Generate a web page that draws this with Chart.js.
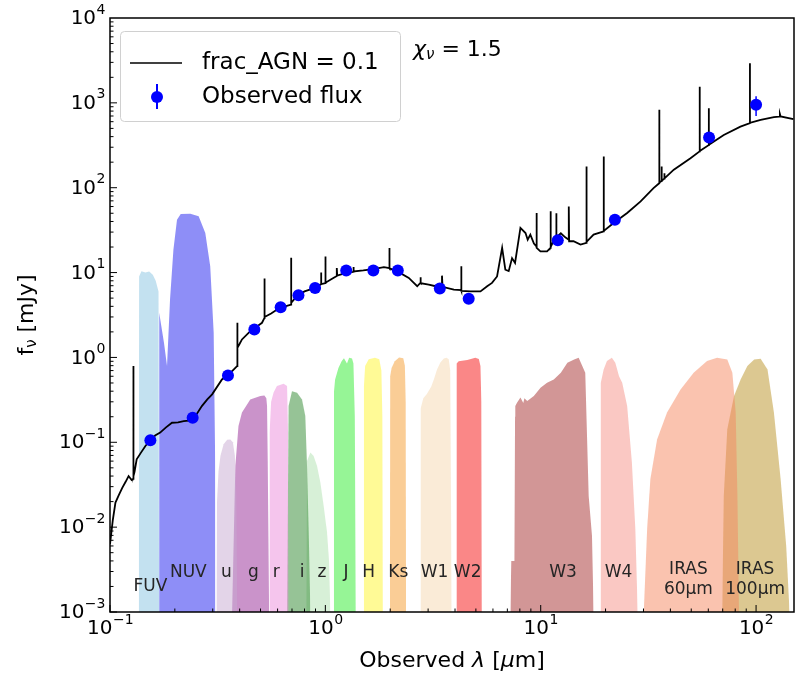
<!DOCTYPE html>
<html>
<head>
<meta charset="utf-8">
<script src="https://cdn.jsdelivr.net/npm/chart.js@4.4.1/dist/chart.umd.min.js"></script>
<style>
  html, body { margin: 0; padding: 0; background: #fff; }
  canvas { display: block; }
</style>
</head>
<body>
<canvas id="sed" width="800" height="677"></canvas>
<script>
// model SED (frac_AGN = 0.1); repeated wavelengths are emission lines
const sedWave = [
  0.100, 0.103, 0.106, 0.110, 0.114, 0.118, 0.122, 0.126, 0.128, 0.128,
  0.129, 0.130, 0.133, 0.139, 0.146, 0.154, 0.162, 0.171, 0.182, 0.194,
  0.207, 0.220, 0.232, 0.245, 0.267, 0.283, 0.298, 0.331, 0.353, 0.375,
  0.389, 0.389, 0.392, 0.400, 0.410, 0.440, 0.468, 0.508, 0.521, 0.521,
  0.523, 0.560, 0.597, 0.650, 0.693, 0.693, 0.695, 0.739, 0.800, 0.896,
  0.955, 0.955, 0.958, 1.000, 1.000, 1.003, 1.06, 1.13, 1.13, 1.135,
  1.25, 1.35, 1.35, 1.355, 1.50, 1.67, 1.87, 1.98, 1.98, 1.99,
  2.15, 2.44, 2.67, 2.76, 2.76, 2.78, 3.02, 3.25, 3.48, 3.48,
  3.50, 3.95, 4.27, 4.27, 4.29, 4.71, 5.25, 5.64, 5.94, 6.27,
  6.62, 6.85, 7.10, 7.36, 7.60, 8.05, 8.50, 8.70, 8.95, 9.30,
  9.55, 9.55, 9.60, 9.97, 10.7, 11.1, 11.1, 11.15, 11.5, 11.8,
  11.8, 11.85, 12.4, 13.0, 13.5, 13.5, 13.55, 14.2, 15.3, 16.3,
  16.3, 16.35, 17.6, 19.6, 19.6, 19.65, 21.8, 25.2, 29.1, 33.4,
  35.5, 35.5, 35.6, 36.4, 36.4, 36.5, 37.5, 37.5, 37.6, 41.5,
  49.6, 54.7, 54.7, 54.8, 60.3, 60.3, 60.4, 70.8, 84.6, 93.6,
  93.6, 93.7, 105, 121, 128, 129, 130, 149
];
const sedFlux = [
  0.0063, 0.012, 0.0195, 0.024, 0.029, 0.034, 0.040, 0.036, 0.037, 0.79,
  0.040, 0.045, 0.063, 0.075, 0.0905, 0.105, 0.12, 0.13, 0.15, 0.17,
  0.172, 0.178, 0.18, 0.19, 0.267, 0.32, 0.367, 0.55, 0.62, 0.72,
  0.79, 2.56, 1.3, 1.45, 1.63, 1.95, 2.2, 2.56, 2.9, 8.5,
  3.0, 3.3, 3.67, 4.0, 4.2, 15.0, 4.4, 5.3, 6.0, 6.6,
  7.3, 10.0, 7.3, 7.5, 15.5, 7.6, 8.3, 9.1, 11.3, 9.2,
  9.9, 10.2, 11.6, 10.3, 10.6, 11.0, 11.6, 11.3, 19.5, 11.2,
  10.4, 8.66, 6.9, 7.56, 8.8, 7.5, 7.2, 6.9, 6.9, 9.2,
  6.8, 6.3, 6.2, 11.9, 6.1, 6.0, 6.0, 6.9, 7.56, 9.0,
  19.5, 10.8, 10.4, 14.8, 13.0, 33.6, 29.2, 24.4, 28, 22,
  20.4, 50.4, 19.5, 17.8, 17.8, 19.5, 52.7, 20, 24, 25,
  50, 26, 29, 26, 24.4, 60, 23.4, 23.4, 21.4, 22.4,
  178, 23, 28, 30.6, 233, 31, 38.4, 50.4, 69, 98.8,
  113, 828, 115, 120, 178, 121, 128, 148, 129, 163,
  223, 268, 1550, 270, 318, 866, 320, 418, 525, 576,
  2930, 580, 630, 680, 690, 741, 692, 645
];

// observed photometry
const obsWave = [0.154, 0.242, 0.353, 0.468, 0.62, 0.75, 0.896, 1.25, 1.67, 2.17, 3.4, 4.63, 12.0, 22.1, 60.5, 100];
const obsFlux = [0.106, 0.195, 0.614, 2.13, 3.9, 5.4, 6.6, 10.6, 10.6, 10.6, 6.5, 4.9, 24, 42, 390, 950];
const obsErr  = [0.005, 0.01, 0.03, 0.1, 0.2, 0.25, 0.3, 0.5, 0.5, 0.5, 0.3, 0.25, 1.5, 3, 40, 250];

// filter transmission curves, scaled onto the flux axis
const fuvWave = [0.136, 0.1365, 0.140, 0.146, 0.152, 0.158, 0.163, 0.168, 0.169];
const fuvTr   = [0.001, 9.0, 10.4, 10.0, 10.3, 9.4, 8.0, 6.0, 0.001];
const nuvWave = [0.169, 0.1692, 0.178, 0.184, 0.190, 0.197, 0.2047, 0.213, 0.236, 0.258, 0.277, 0.292, 0.303, 0.308, 0.3085];
const nuvTr   = [0.001, 3.35, 1.5, 0.79, 4.8, 18.6, 42, 49, 49.5, 46, 29.3, 11.9, 1.95, 0.053, 0.001];
const uWave = [0.312, 0.314, 0.319, 0.326, 0.337, 0.350, 0.362, 0.372, 0.380, 0.386, 0.390];
const uTr   = [0.001, 0.02, 0.045, 0.07, 0.095, 0.107, 0.108, 0.1, 0.07, 0.025, 0.001];
const gWave = [0.369, 0.382, 0.395, 0.410, 0.448, 0.499, 0.521, 0.532, 0.536, 0.540, 0.548];
const gTr   = [0.001, 0.0526, 0.156, 0.224, 0.32, 0.35, 0.357, 0.33, 0.267, 0.06, 0.001];
const rWave = [0.549, 0.551, 0.560, 0.575, 0.596, 0.640, 0.664, 0.671, 0.675];
const rTr   = [0.001, 0.13, 0.3, 0.385, 0.46, 0.49, 0.46, 0.13, 0.001];
const iWave = [0.664, 0.675, 0.700, 0.739, 0.779, 0.807, 0.822, 0.837, 0.852];
const iTr   = [0.001, 0.267, 0.40, 0.384, 0.32, 0.204, 0.0526, 0.0087, 0.001];
const zWave = [0.815, 0.822, 0.852, 0.882, 0.915, 0.948, 0.982, 1.018, 1.040, 1.055];
const zTr   = [0.001, 0.06, 0.0757, 0.069, 0.0526, 0.0336, 0.0178, 0.0087, 0.004, 0.001];
const jWave = [1.095, 1.097, 1.11, 1.15, 1.19, 1.22, 1.26, 1.29, 1.33, 1.35, 1.37, 1.385];
const jTr   = [0.001, 0.4, 0.55, 0.75, 0.9, 0.98, 0.85, 0.99, 0.97, 0.85, 0.2, 0.001];
const hWave = [1.506, 1.51, 1.53, 1.59, 1.70, 1.78, 1.82, 1.84, 1.85];
const hTr   = [0.001, 0.45, 0.79, 0.95, 0.99, 0.95, 0.7, 0.2, 0.001];
const ksWave = [1.995, 2.0, 2.03, 2.1, 2.2, 2.3, 2.34, 2.36, 2.37];
const ksTr   = [0.001, 0.6, 0.75, 0.9, 1.0, 0.98, 0.8, 0.3, 0.001];
const w1Wave = [2.76, 2.77, 2.85, 2.96, 3.1, 3.19, 3.3, 3.42, 3.55, 3.65, 3.74, 3.8, 3.86];
const w1Tr   = [0.001, 0.25, 0.33, 0.37, 0.45, 0.55, 0.72, 0.87, 0.97, 0.99, 0.95, 0.7, 0.001];
const w2Wave = [4.05, 4.07, 4.16, 4.56, 4.97, 5.16, 5.25, 5.30, 5.33];
const w2Tr   = [0.001, 0.85, 0.9, 0.93, 0.99, 0.96, 0.79, 0.3, 0.001];
const w3Wave = [7.23, 7.3, 7.55, 7.6, 7.62, 7.76, 8.05, 8.3, 8.4, 8.66, 9.29, 9.98, 10.7, 11.5, 12.4, 13.3, 14.3, 15.0, 15.6, 16.1, 16.7, 17.3, 17.6];
const w3Tr   = [0.001, 0.004, 0.004, 0.2, 0.267, 0.293, 0.336, 0.29, 0.33, 0.306, 0.35, 0.44, 0.504, 0.55, 0.66, 0.866, 0.947, 0.99, 0.79, 0.66, 0.0233, 0.0079, 0.001];
const w4Wave = [18.9, 19.0, 19.6, 20.3, 21.4, 22.2, 23.1, 23.9, 25.2, 26.5, 27.5, 28.2];
const w4Tr   = [0.001, 0.5, 0.72, 0.905, 0.99, 0.866, 0.6, 0.504, 0.267, 0.058, 0.0095, 0.001];
const i60Wave = [30.1, 31.2, 32.3, 34.7, 38.6, 44.6, 51.3, 59.2, 65.9, 73.5, 77.6, 80.4, 81.9, 83.3];
const i60Tr   = [0.001, 0.0095, 0.0369, 0.108, 0.224, 0.42, 0.66, 0.905, 0.99, 0.947, 0.66, 0.224, 0.0234, 0.001];
const i100Wave = [69.6, 70.8, 73.5, 79.0, 84.8, 91.1, 98.0, 105, 113, 121, 130, 138, 143];
const i100Tr   = [0.001, 0.0234, 0.142, 0.35, 0.55, 0.79, 0.947, 0.965, 0.72, 0.224, 0.0369, 0.006, 0.001];

// filter names as printed, and the wavelength each label sits at
const filterNames = ['FUV', 'NUV', 'u', 'g', 'r', 'i', 'z', 'J', 'H', 'Ks', 'W1', 'W2', 'W3', 'W4', 'IRAS\n60μm', 'IRAS\n100μm'];
const filterLabelWave = [0.154, 0.231, 0.347, 0.463, 0.592, 0.78, 0.965, 1.248, 1.59, 2.18, 3.21, 4.58, 12.7, 23.0, 48.5, 99.0];
const filterColors = [
  'rgba(135,195,225,0.5)', 'rgba(30,30,240,0.5)', 'rgba(200,170,210,0.5)', 'rgba(150,40,150,0.5)',
  'rgba(235,140,220,0.5)', 'rgba(45,135,45,0.5)', 'rgba(175,225,175,0.5)', 'rgba(45,235,45,0.5)',
  'rgba(255,245,45,0.5)', 'rgba(245,155,45,0.5)', 'rgba(245,215,175,0.5)', 'rgba(245,15,15,0.5)',
  'rgba(165,45,45,0.5)', 'rgba(245,145,135,0.5)', 'rgba(245,135,95,0.5)', 'rgba(185,145,35,0.5)'
];
const filterCurves = [
  [fuvWave, fuvTr], [nuvWave, nuvTr], [uWave, uTr], [gWave, gTr], [rWave, rTr], [iWave, iTr],
  [zWave, zTr], [jWave, jTr], [hWave, hTr], [ksWave, ksTr], [w1Wave, w1Tr], [w2Wave, w2Tr],
  [w3Wave, w3Tr], [w4Wave, w4Tr], [i60Wave, i60Tr], [i100Wave, i100Tr]
];

// axis ticks (exponents of ten)
const xTickExp = [-1, 0, 1, 2];
const yTickExp = [-3, -2, -1, 0, 1, 2, 3, 4];

const FONT = '"DejaVu Sans", sans-serif';
const toXY = (xs, ys) => xs.map((v, i) => ({ x: v, y: ys[i] }));
const sup = e => String(e).replace('-', '\u2212');

function drawPow(ctx, exp, x, y, align) {
  ctx.font = `20px ${FONT}`;
  const w1 = ctx.measureText('10').width;
  ctx.font = `14px ${FONT}`;
  const w2 = ctx.measureText(sup(exp)).width;
  const left = align === 'right' ? x - w1 - w2 : x - (w1 + w2) / 2;
  ctx.textAlign = 'left';
  ctx.textBaseline = 'middle';
  ctx.font = `20px ${FONT}`;
  ctx.fillText('10', left, y);
  ctx.font = `14px ${FONT}`;
  ctx.fillText(sup(exp), left + w1 + 0.5, y - 9);
}

// runs of [text, font, dy]
function drawRuns(ctx, runs, x, y, align) {
  let total = 0;
  runs.forEach(r => { ctx.font = r[1]; total += ctx.measureText(r[0]).width; });
  let cx = align === 'center' ? x - total / 2 : x;
  ctx.textAlign = 'left';
  ctx.textBaseline = 'middle';
  runs.forEach(r => {
    ctx.font = r[1];
    ctx.fillText(r[0], cx, y + (r[2] || 0));
    cx += ctx.measureText(r[0]).width;
  });
}

const sedDecor = {
  id: 'sedDecor',
  beforeDatasetDraw(chart, args) {
    if (args.index !== 0) return;
    const { ctx, scales: { x, y } } = chart;
    ctx.save();
    ctx.strokeStyle = 'blue';
    ctx.lineWidth = 1.5;
    obsWave.forEach((w, i) => {
      const px = x.getPixelForValue(w);
      ctx.beginPath();
      ctx.moveTo(px, y.getPixelForValue(obsFlux[i] - obsErr[i]));
      ctx.lineTo(px, y.getPixelForValue(obsFlux[i] + obsErr[i]));
      ctx.stroke();
    });
    ctx.restore();
  },
  afterDraw(chart) {
    const { ctx, chartArea: a, scales: { x, y } } = chart;
    ctx.save();

    // filter names
    ctx.fillStyle = '#262626';
    ctx.textAlign = 'center';
    ctx.textBaseline = 'middle';
    ctx.font = `17px ${FONT}`;
    filterNames.forEach((n, i) => {
      const px = x.getPixelForValue(filterLabelWave[i]);
      const lines = n.split('\n');
      if (lines.length > 1) {
        ctx.fillText(lines[0], px, a.bottom - 42);
        ctx.fillText(lines[1], px, a.bottom - 22);
      } else {
        ctx.fillText(n, px, n === 'FUV' ? a.bottom - 25 : a.bottom - 39);
      }
    });

    // frame
    ctx.strokeStyle = '#000';
    ctx.lineWidth = 1.5;
    ctx.strokeRect(a.left, a.top, a.right - a.left, a.bottom - a.top);

    // inward ticks, left and bottom
    ctx.lineWidth = 1;
    const tick = (x1, y1, x2, y2) => { ctx.beginPath(); ctx.moveTo(x1, y1); ctx.lineTo(x2, y2); ctx.stroke(); };
    for (let d = -3; d <= 3; d++) {
      for (let m = 1; m <= 9; m++) {
        const py = y.getPixelForValue(m * Math.pow(10, d));
        tick(a.left, py, a.left + (m === 1 ? 7 : 3.5), py);
      }
    }
    for (let d = -1; d <= 2; d++) {
      for (let m = 1; m <= 9; m++) {
        const v = m * Math.pow(10, d);
        if (v > x.max) break;
        const px = x.getPixelForValue(v);
        tick(px, a.bottom, px, a.bottom - (m === 1 ? 7 : 3.5));
      }
    }

    // tick labels
    ctx.fillStyle = '#000';
    yTickExp.forEach(e => drawPow(ctx, e, a.left - 5, y.getPixelForValue(Math.pow(10, e)) + 1, 'right'));
    xTickExp.forEach(e => drawPow(ctx, e, x.getPixelForValue(Math.pow(10, e)), a.bottom + 17, 'center'));

    // axis titles
    drawRuns(ctx, [
      ['Observed ', `22px ${FONT}`], ['λ', `italic 22px ${FONT}`], [' [', `22px ${FONT}`],
      ['μ', `italic 22px ${FONT}`], ['m]', `22px ${FONT}`]
    ], (a.left + a.right) / 2, 661, 'center');
    ctx.save();
    ctx.translate(27, (a.top + a.bottom) / 2);
    ctx.rotate(-Math.PI / 2);
    drawRuns(ctx, [
      ['f', `22px ${FONT}`], ['ν', `15px ${FONT}`, 5], [' [mJy]', `22px ${FONT}`]
    ], 0, 0, 'center');
    ctx.restore();

    // reduced chi-square
    drawRuns(ctx, [
      ['χ', `italic 22px ${FONT}`], ['ν', `italic 15px ${FONT}`, 5], [' = 1.5', `22px ${FONT}`]
    ], 413, 50, 'left');

    // legend
    ctx.beginPath();
    ctx.roundRect(120.5, 31.5, 280, 90, 4);
    ctx.fillStyle = 'rgba(255,255,255,0.8)';
    ctx.fill();
    ctx.strokeStyle = '#d0d0d0';
    ctx.lineWidth = 1;
    ctx.stroke();
    ctx.strokeStyle = '#000';
    ctx.lineWidth = 1.5;
    tick(130, 63, 182, 63);
    ctx.strokeStyle = 'blue';
    ctx.lineWidth = 2;
    tick(157, 84, 157, 109);
    ctx.fillStyle = 'blue';
    ctx.beginPath();
    ctx.arc(157, 97, 6, 0, Math.PI * 2);
    ctx.fill();
    ctx.fillStyle = '#000';
    ctx.font = `23px ${FONT}`;
    ctx.textAlign = 'left';
    ctx.textBaseline = 'middle';
    ctx.fillText('frac_AGN = 0.1', 202, 63);
    ctx.fillText('Observed flux', 202, 97);

    ctx.restore();
  }
};

const datasets = [
  {
    label: 'Observed flux', data: toXY(obsWave, obsFlux), showLine: false,
    pointRadius: 6, pointBackgroundColor: 'blue', pointBorderWidth: 0
  },
  {
    label: 'frac_AGN = 0.1', data: toXY(sedWave, sedFlux), borderColor: '#000',
    borderWidth: 1.8, pointRadius: 0, fill: false, tension: 0
  }
].concat(filterCurves.map((c, i) => ({
  label: filterNames[i], data: toXY(c[0], c[1]), borderWidth: 0, borderColor: 'rgba(0,0,0,0)',
  backgroundColor: filterColors[i], pointRadius: 0, fill: 'start', tension: 0
})));

new Chart(document.getElementById('sed'), {
  type: 'line',
  data: { datasets },
  options: {
    responsive: false,
    animation: false,
    devicePixelRatio: 1,
    layout: { padding: { left: 110, right: 6, top: 18, bottom: 65 } },
    scales: {
      x: { type: 'logarithmic', min: 0.1, max: 150, display: false },
      y: { type: 'logarithmic', min: 1e-3, max: 1e4, display: false }
    },
    plugins: { legend: { display: false }, tooltip: { enabled: false } }
  },
  plugins: [sedDecor]
});
</script>
</body>
</html>
